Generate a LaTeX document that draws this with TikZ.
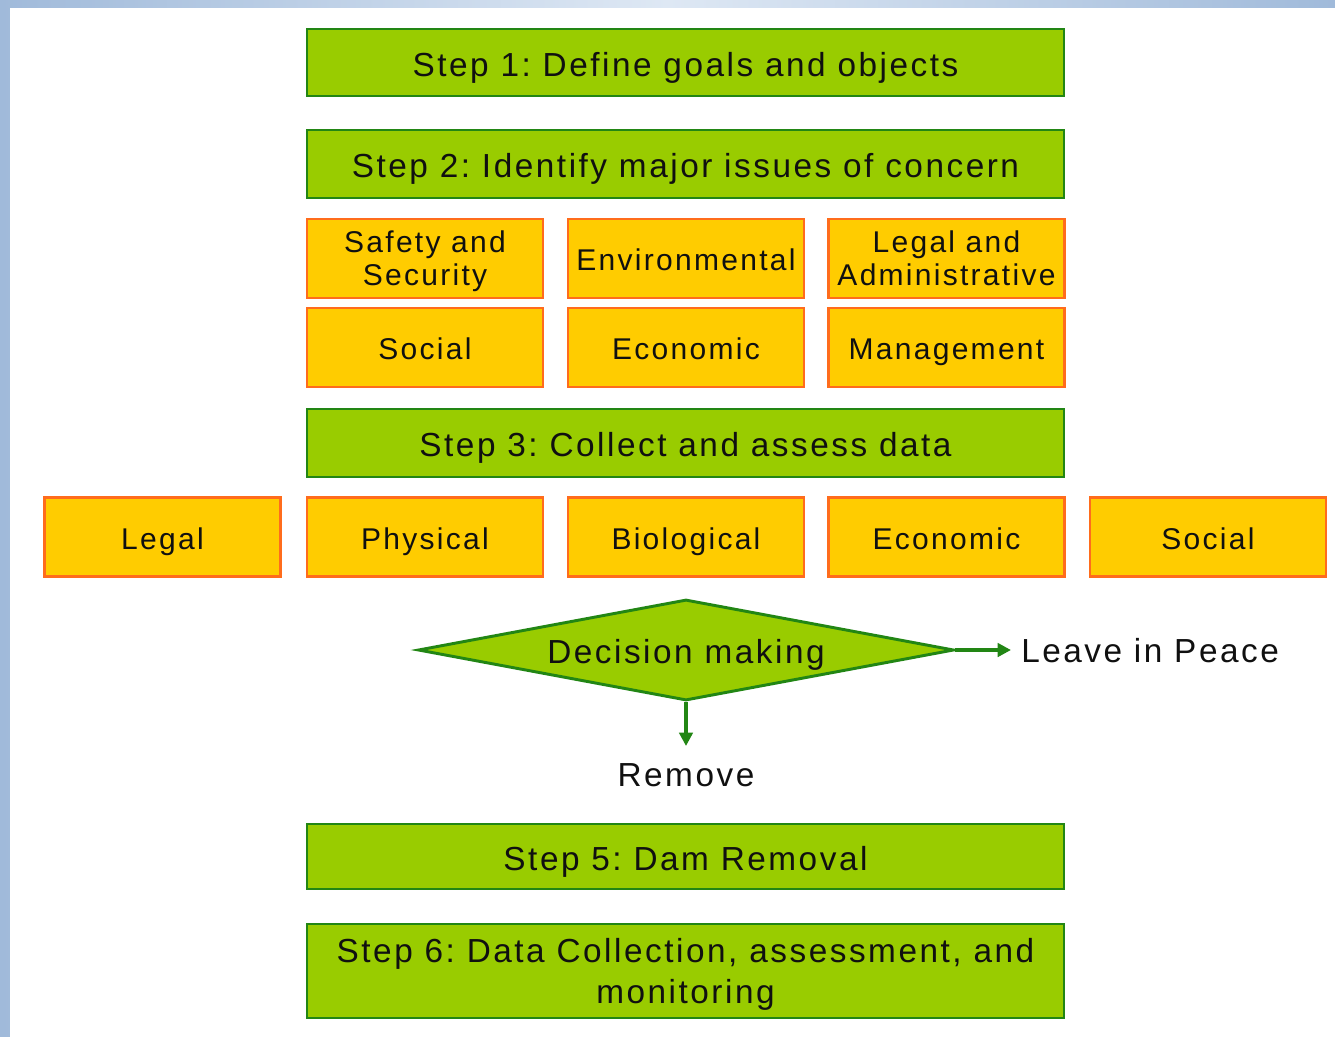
\documentclass[tikz,border=0pt]{standalone}
\usepackage{fontspec}
\setmainfont{Liberation Sans}[LetterSpace=7.6]
\usetikzlibrary{shapes.geometric,arrows.meta}
\definecolor{stepfill}{RGB}{153,204,0}
\definecolor{stepline}{RGB}{34,134,20}
\definecolor{issuefill}{RGB}{255,204,0}
\definecolor{issueline}{RGB}{255,108,28}
\definecolor{inktext}{RGB}{16,16,16}
\definecolor{frameblue}{RGB}{160,186,218}
\definecolor{framelight}{RGB}{222,232,244}
% struts that balance two-line labels around the box centre
\newcommand{\firstrow}{\rule{0pt}{0.93em}}
\newcommand{\lastrow}{\rule[-0.21em]{0pt}{0pt}}
\tikzset{
  bigline/.style={text height=25pt, text depth=4.5pt},
  smallline/.style={text height=22.5pt, text depth=4.5pt},
  stepbox/.style={draw=stepline, fill=stepfill, line width=2.2pt,
    minimum width=567.75pt, inner sep=0pt, align=center, text=inktext,
    font=\fontsize{25}{31}\selectfont},
  issuebox/.style={draw=issueline, fill=issuefill, line width=2.2pt,
    minimum width=177pt, minimum height=59.25pt, inner sep=0pt,
    align=center, text=inktext, font=\fontsize{22.5}{25}\selectfont},
  decision/.style={diamond, draw=stepline, fill=stepfill, line width=2.2pt,
    minimum width=402pt, minimum height=75.75pt, inner sep=0pt, aspect=5.3,
    text=inktext, font=\fontsize{25}{31}\selectfont, bigline},
  outcome/.style={text=inktext, inner sep=0pt, font=\fontsize{25}{31}\selectfont},
  flow/.style={draw=stepline, line width=3pt,
    -{Triangle[length=10pt,width=10pt]}}
}
\begin{document}
\frenchspacing
\begin{tikzpicture}[x=0.75pt,y=-0.75pt]
\useasboundingbox (0,0) rectangle (1335,1036);
% window frame
\shade[left color=frameblue, right color=frameblue, middle color=framelight]
  (0,0) rectangle (1335,1036);
\fill[white] (10,8) rectangle (1345,1046);

% steps
\node[stepbox, bigline, minimum height=50.25pt] (s1) at (685.5,62.5) {Step 1: Define goals and objects};
\node[stepbox, bigline, minimum height=51pt] (s2) at (685.5,164) {Step 2: Identify major issues of concern};

% issues of concern
\node[issuebox] (safety) at (425,258.5) {\firstrow Safety and\\Security\lastrow};
\node[issuebox, smallline] (env) at (686,258.5) {Environmental};
\node[issuebox] (legadm) at (946.5,258.5) {\firstrow Legal and\\Administrative\lastrow};
\node[issuebox, smallline] (soc1) at (425,347.5) {Social};
\node[issuebox, smallline] (eco1) at (686,347.5) {Economic};
\node[issuebox, smallline] (mgmt) at (946.5,347.5) {Management};

\node[stepbox, bigline, minimum height=51pt] (s3) at (685.5,443) {Step 3: Collect and assess data};

% data categories
\node[issuebox, smallline] (legal) at (162.5,537) {Legal};
\node[issuebox, smallline] (phys) at (425,537) {Physical};
\node[issuebox, smallline] (bio) at (686,537) {Biological};
\node[issuebox, smallline] (eco2) at (946.5,537) {Economic};
\node[issuebox, smallline] (soc2) at (1208,537) {Social};

% decision
\node[decision] (dec) at (686,650) {Decision making};
\node[outcome, anchor=west] (leave) at (1021,651) {Leave in Peace};
\node[outcome] (remove) at (686,775) {Remove};
\coordinate (leaveend) at (1011,650);
\coordinate (removeend) at (686,746);
\draw[flow] (dec.east) -- (leaveend);
\draw[flow] (dec.south) -- (removeend);

\node[stepbox, bigline, minimum height=48.75pt] (s5) at (685.5,856.5) {Step 5: Dam Removal};
\node[stepbox, minimum height=70.5pt] (s6) at (685.5,971) {\firstrow Step 6: Data Collection, assessment, and\\monitoring\lastrow};
\end{tikzpicture}
\end{document}
